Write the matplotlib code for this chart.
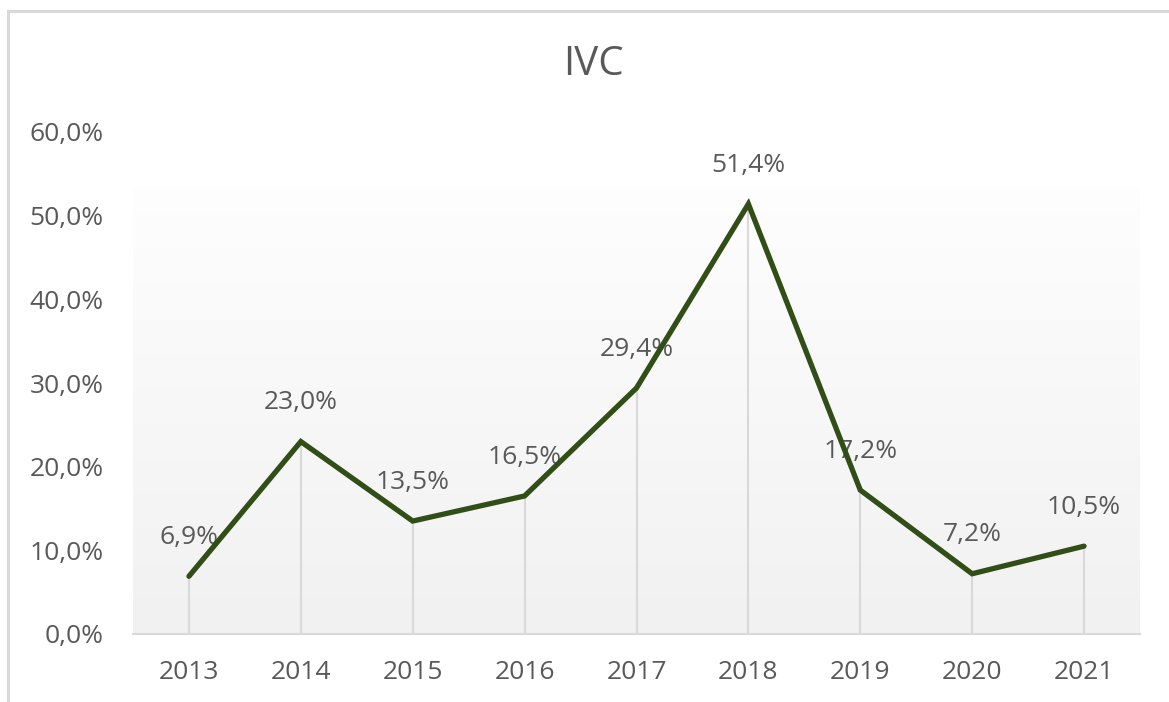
import matplotlib
matplotlib.use("Agg")
import matplotlib.pyplot as plt
import numpy as np
from matplotlib.lines import Line2D

years = ["2013", "2014", "2015", "2016", "2017", "2018", "2019", "2020", "2021"]
values = [6.9, 23.0, 13.5, 16.5, 29.4, 51.4, 17.2, 7.2, 10.5]
labels = ["6,9%", "23,0%", "13,5%", "16,5%", "29,4%", "51,4%", "17,2%", "7,2%", "10,5%"]
yticks = [0, 10, 20, 30, 40, 50, 60]
yticklabels = ["0,0%", "10,0%", "20,0%", "30,0%", "40,0%", "50,0%", "60,0%"]
title = "IVC"

plt.rcParams['font.family'] = ['Open Sans', 'DejaVu Sans']
TXT = "#595959"
GRID = "#d9d9d9"
LINE = "#304e16"

W, H = 1169, 702
fig = plt.figure(figsize=(W / 100, H / 100), dpi=100)
fig.patch.set_facecolor("white")

# chart border (cropped on right & bottom)
fig.add_artist(Line2D([8 / W, 8 / W], [0, 1 - 11 / H], transform=fig.transFigure,
                      color=GRID, lw=2.2))
fig.add_artist(Line2D([8 / W, 1], [1 - 11 / H, 1 - 11 / H], transform=fig.transFigure,
                      color=GRID, lw=2.2))

left, right, bottom, top = 133 / W, 1140 / W, 1 - 634 / H, 1 - 132 / H
ax = fig.add_axes([left, bottom, right - left, top - bottom])
ax.set_facecolor("none")
x = np.arange(len(years))
ax.set_xlim(-0.5, len(years) - 0.5)
ax.set_ylim(0, 60)

# gradient plot-area fill
grad_top = 53.3
g = np.linspace(0, 1, 256).reshape(-1, 1)
c_top = np.array([0.995, 0.995, 0.995])
c_bot = np.array([0.945, 0.945, 0.945])
img = c_bot + (c_top - c_bot) * g
img = img[:, None, :] * np.ones((1, 2, 1))
ax.imshow(img, extent=[-0.5, len(years) - 0.5, 0, grad_top], origin="lower",
          aspect="auto", zorder=0, interpolation="bilinear")

# drop lines
ax.vlines(x, 0, values, colors=GRID, lw=1.5, zorder=1)

# data labels
for xi, v, lab in zip(x, values, labels):
    ax.annotate(lab, (xi, v), xytext=(0, 28), textcoords="offset points",
                ha="center", va="center", fontsize=19, color=TXT, zorder=2)

ax.plot(x, values, color=LINE, lw=3.8, solid_capstyle="round",
        solid_joinstyle="miter", zorder=3)

for s in ["left", "right", "top"]:
    ax.spines[s].set_visible(False)
ax.spines["bottom"].set_color(GRID)
ax.spines["bottom"].set_linewidth(1.5)
ax.spines["bottom"].set_zorder(4)

ax.set_xticks(x)
ax.set_xticklabels(years)
ax.set_yticks(yticks)
ax.set_yticklabels(yticklabels)
ax.tick_params(axis="both", length=0, labelsize=19, labelcolor=TXT)
ax.tick_params(axis="x", pad=19)
ax.tick_params(axis="y", pad=21)

fig.text(593 / W, 1 - 65 / H, title, ha="center", va="center", fontsize=29, color=TXT)

fig.savefig("out.png", dpi=100)
